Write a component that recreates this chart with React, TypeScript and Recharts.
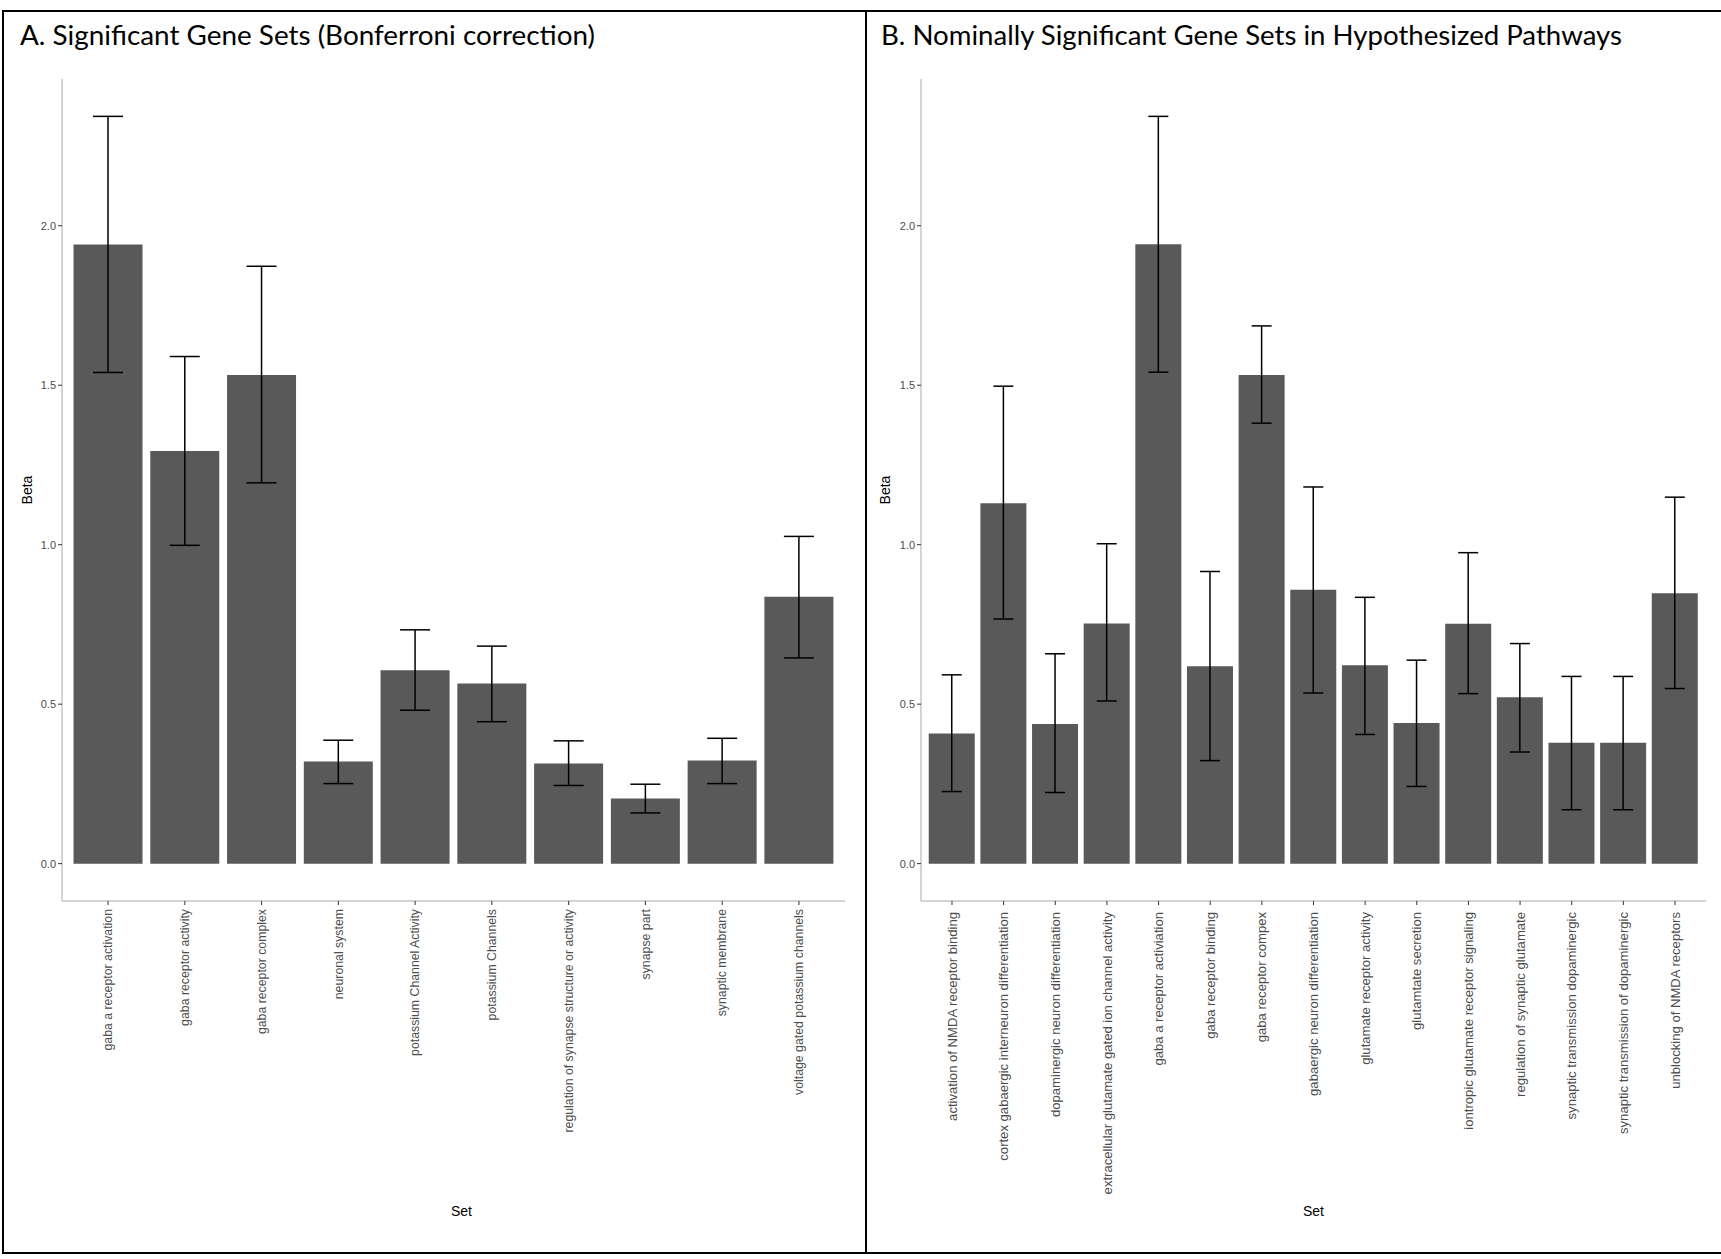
import React from "react";
import { BarChart, Bar, XAxis, YAxis, ErrorBar, Label } from "recharts";

// Panel A: gene sets significant after Bonferroni correction
const setsA = [
  "gaba a receptor activation",
  "gaba receptor activity",
  "gaba receptor complex",
  "neuronal system",
  "potassium Channel Activity",
  "potassium Channels",
  "regulation of synapse structure or activity",
  "synapse part",
  "synaptic membrane",
  "voltage gated potassium channels",
];
const betaA = [1.941, 1.294, 1.532, 0.32, 0.606, 0.565, 0.314, 0.204, 0.323, 0.837];
const lowA = [1.54, 0.998, 1.194, 0.251, 0.481, 0.445, 0.245, 0.159, 0.251, 0.645];
const highA = [2.343, 1.59, 1.873, 0.387, 0.733, 0.682, 0.385, 0.249, 0.393, 1.026];

// Panel B: nominally significant sets in hypothesized pathways
const setsB = [
  "activation of NMDA receptor binding",
  "cortex gabaergic interneuron differentiation",
  "dopaminergic neuron differentiation",
  "extracellular glutamate gated ion channel activity",
  "gaba a receptor activiation",
  "gaba receptor binding",
  "gaba receptor compex",
  "gabaergic neuron differentiation",
  "glutamate receptor activity",
  "glutamtate secretion",
  "iontropic glutamate receptor signaling",
  "regulation of synaptic glutamate",
  "synaptic transmission dopaminergic",
  "synaptic transmission of dopaminergic",
  "unblocking of NMDA receptors",
];
const betaB = [0.408, 1.13, 0.438, 0.753, 1.942, 0.619, 1.532, 0.859, 0.622, 0.441, 0.752, 0.522, 0.379, 0.379, 0.848];
const lowB = [0.226, 0.767, 0.223, 0.51, 1.541, 0.323, 1.381, 0.535, 0.405, 0.242, 0.533, 0.35, 0.169, 0.169, 0.549];
const highB = [0.592, 1.497, 0.658, 1.003, 2.343, 0.916, 1.686, 1.181, 0.835, 0.638, 0.975, 0.69, 0.587, 0.587, 1.149];

const yTicks = [0, 0.5, 1.0, 1.5, 2.0];

const titleA = "A. Significant Gene Sets (Bonferroni correction)";
const titleB = "B. Nominally Significant Gene Sets in Hypothesized Pathways";

const BAR_FILL = "#595959";
const TICK_GREY = "#4d4d4d";
const AXIS_GREY = "#c6c6c6";
const SANS = "'Liberation Sans', Arial, sans-serif";
const NARROW = "'Liberation Sans Narrow', 'Liberation Sans', Arial, sans-serif";

function buildRows(sets: string[], beta: number[], low: number[], high: number[]) {
  return sets.map((s, i) => ({
    set: s,
    beta: beta[i],
    err: [beta[i] - low[i], high[i] - beta[i]],
  }));
}

const makeSetTick = (fontSize: number) => (props: any) => {
  const { x, y, payload } = props;
  return (
    <g transform={`translate(${x},${y})`}>
      <text
        transform="rotate(-90)"
        x={0}
        y={0}
        dy="0.35em"
        textAnchor="end"
        fill={TICK_GREY}
        fontSize={fontSize}
        fontFamily={SANS}
      >
        {payload.value}
      </text>
    </g>
  );
};

interface PanelProps {
  sets: string[];
  beta: number[];
  low: number[];
  high: number[];
  width: number;
  yAxisWidth: number;
  rightMargin: number;
  capWidth: number;
  betaX: number;
  setDx: number;
  labelSize: number;
  labelGap: number;
}

function Panel({
  sets, beta, low, high, width, yAxisWidth, rightMargin, capWidth, betaX, setDx, labelSize, labelGap,
}: PanelProps) {
  const rows = buildRows(sets, beta, low, high);
  const maxHi = Math.max(...high);
  // ggplot-like 5% expansion of the continuous scale
  const domain: [number, number] = [-0.05 * maxHi, 1.05 * maxHi];
  const plotW = width - yAxisWidth - rightMargin;
  const unit = plotW / (sets.length + 0.2);
  const pad = unit * 0.1;
  const SetTick = makeSetTick(labelSize);

  return (
    <BarChart
      width={width}
      height={1252}
      data={rows}
      margin={{ top: 79, right: rightMargin, left: 0, bottom: 0 }}
      barCategoryGap="5%"
    >
      <XAxis
        dataKey="set"
        type="category"
        interval={0}
        height={351}
        padding={{ left: pad, right: pad }}
        tick={<SetTick />}
        tickSize={4}
        tickMargin={labelGap}
        tickLine={{ stroke: "#333333" }}
        axisLine={{ stroke: AXIS_GREY, strokeWidth: 1.5 }}
      >
        <Label
          content={(p: any) => {
            const vb = p.viewBox;
            return (
              <text
                x={vb.x + vb.width / 2 + setDx}
                y={vb.y + vb.height - 36}
                textAnchor="middle"
                fontSize={14}
                fontFamily={NARROW}
                fill="#000"
              >
                Set
              </text>
            );
          }}
        />
      </XAxis>
      <YAxis
        type="number"
        width={yAxisWidth}
        domain={domain}
        allowDataOverflow
        ticks={yTicks}
        tickFormatter={(v: number) => v.toFixed(1)}
        tick={{ fill: TICK_GREY, fontSize: 11, fontFamily: SANS }}
        tickSize={4}
        tickMargin={2}
        tickLine={{ stroke: "#333333" }}
        axisLine={{ stroke: AXIS_GREY, strokeWidth: 1.5 }}
      >
        <Label
          content={(p: any) => {
            const vb = p.viewBox;
            const cy = vb.y + vb.height / 2;
            return (
              <text
                x={betaX}
                y={cy}
                transform={`rotate(-90, ${betaX}, ${cy})`}
                textAnchor="middle"
                dy="0.35em"
                fontSize={14}
                fontFamily={NARROW}
                fill="#000"
              >
                Beta
              </text>
            );
          }}
        />
      </YAxis>
      <Bar dataKey="beta" fill={BAR_FILL} isAnimationActive={false}>
        <ErrorBar
          dataKey="err"
          direction="y"
          width={capWidth}
          stroke="#000"
          strokeWidth={1.5}
          isAnimationActive={false}
        />
      </Bar>
    </BarChart>
  );
}

export default function App() {
  return (
    <div
      style={{
        position: "absolute",
        left: 0,
        top: 0,
        width: 1721,
        height: 1259,
        background: "#fff",
        overflow: "hidden",
      }}
    >
      <div style={{ position: "absolute", left: 0, top: 0 }}>
        <Panel
          sets={setsA}
          beta={betaA}
          low={lowA}
          high={highA}
          width={866}
          yAxisWidth={62}
          rightMargin={21}
          capWidth={15}
          betaX={27}
          setDx={8}
          labelSize={12.3}
          labelGap={4}
        />
      </div>
      <div style={{ position: "absolute", left: 866, top: 0 }}>
        <Panel
          sets={setsB}
          beta={betaB}
          low={lowB}
          high={highB}
          width={855}
          yAxisWidth={55}
          rightMargin={15}
          capWidth={10}
          betaX={19}
          setDx={0}
          labelSize={13.1}
          labelGap={7}
        />
      </div>
      {/* panel frames */}
      <div
        style={{
          position: "absolute",
          left: 2,
          top: 10,
          width: 865,
          height: 1244,
          border: "2px solid #000",
          boxSizing: "border-box",
          pointerEvents: "none",
        }}
      />
      <div
        style={{
          position: "absolute",
          left: 865,
          top: 10,
          width: 900,
          height: 1244,
          border: "2px solid #000",
          boxSizing: "border-box",
          pointerEvents: "none",
        }}
      />
      <svg
        width={1721}
        height={80}
        style={{ position: "absolute", left: 0, top: 0, pointerEvents: "none" }}
      >
        <text x={20} y={45} fontSize={26} fontFamily="Lato, 'Open Sans', sans-serif" fill="#000" textLength={575} lengthAdjust="spacingAndGlyphs">
          {titleA}
        </text>
        <text x={881} y={45} fontSize={26} fontFamily="Lato, 'Open Sans', sans-serif" fill="#000" textLength={741} lengthAdjust="spacingAndGlyphs">
          {titleB}
        </text>
      </svg>
    </div>
  );
}
